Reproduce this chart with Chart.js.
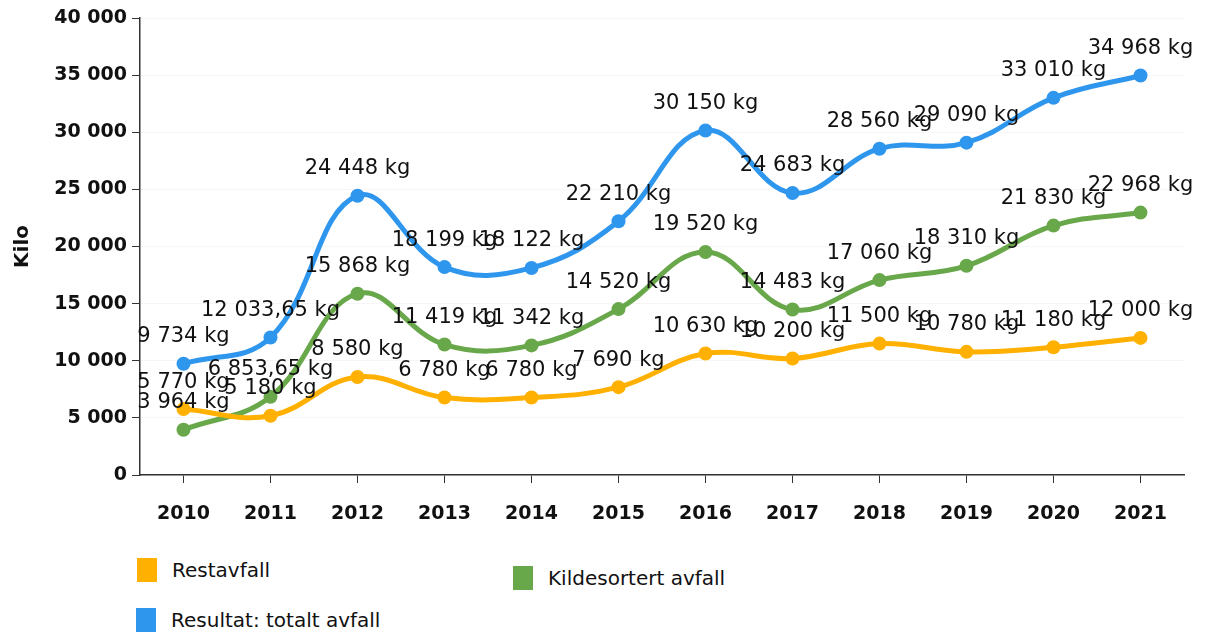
<!DOCTYPE html>
<html>
<head>
<meta charset="utf-8">
<script src="https://cdn.jsdelivr.net/npm/chart.js@4"></script>
<style>
    html, body { margin: 0; padding: 0; background: #fff; }
    body { width: 1216px; height: 638px; position: relative; overflow: hidden; font-family: 'DejaVu Sans', sans-serif; }
    #wrap { position: absolute; left: 0; top: 0; width: 1216px; height: 545px; }
    .legend-item { position: absolute; display: flex; align-items: center; font-size: 20px; color: #111; }
    .legend-item span.box { display: inline-block; width: 20px; height: 24px; margin-right: 15px; }
</style>
</head>
<body>
<div id="wrap"><canvas id="chart"></canvas></div>
<div class="legend-item" style="left:137px; top:558px;"><span class="box" style="background:#ffb000"></span>Restavfall</div>
<div class="legend-item" style="left:513px; top:566px;"><span class="box" style="background:#68a84a"></span>Kildesortert avfall</div>
<div class="legend-item" style="left:136px; top:608px;"><span class="box" style="background:#2f96ee"></span>Resultat: totalt avfall</div>
<script>
const years = ['2010', '2011', '2012', '2013', '2014', '2015', '2016', '2017', '2018', '2019', '2020', '2021'];
const restavfall = [5770, 5180, 8580, 6780, 6780, 7690, 10630, 10200, 11500, 10780, 11180, 12000];
const kildesortert = [3964, 6853.65, 15868, 11419, 11342, 14520, 19520, 14483, 17060, 18310, 21830, 22968];
const totalt = [9734, 12033.65, 24448, 18199, 18122, 22210, 30150, 24683, 28560, 29090, 33010, 34968];
const yTicks = [0, 5000, 10000, 15000, 20000, 25000, 30000, 35000, 40000];

const COLORS = {
    orange: '#ffb000',
    green: '#68a84a',
    blue: '#2f96ee',
    axis: '#333333',
    grid: 'rgba(0, 0, 0, 0.035)',
    text: '#111111',
};

// "6 853,65" style: space as thousands separator, comma for decimals
function formatNo(value) {
    const parts = Number(value).toFixed(2).split('.');
    const whole = parts[0].replace(/\B(?=(\d{3})+(?!\d))/g, ' ');
    return parts[1] === '00' ? whole : `${whole},${parts[1]}`;
}

const valueLabels = {
    id: 'valueLabels',
    afterDatasetsDraw(chart) {
        const ctx = chart.ctx;
        ctx.save();
        ctx.font = '21px "DejaVu Sans", sans-serif';
        ctx.fillStyle = COLORS.text;
        ctx.textAlign = 'center';
        ctx.textBaseline = 'middle';
        chart.data.datasets.forEach((ds, i) => {
            chart.getDatasetMeta(i).data.forEach((pt, j) => {
                ctx.fillText(`${formatNo(ds.data[j])} kg`, pt.x, pt.y - 27);
            });
        });
        ctx.restore();
    },
};

function line(label, data, color) {
    return {
        label,
        data,
        borderColor: color,
        backgroundColor: color,
        borderWidth: 5,
        pointRadius: 7,
        pointBorderWidth: 0,
        tension: 0.4,
        fill: false,
    };
}

new Chart(document.getElementById('chart'), {
    type: 'line',
    data: {
        labels: years,
        datasets: [
            line('Restavfall', restavfall, COLORS.orange),
            line('Kildesortert avfall', kildesortert, COLORS.green),
            line('Resultat: totalt avfall', totalt, COLORS.blue),
        ],
    },
    options: {
        responsive: true,
        maintainAspectRatio: false,
        animation: false,
        layout: { padding: { top: 18, right: 32, left: 0, bottom: 0 } },
        plugins: {
            legend: { display: false },
            tooltip: { enabled: false },
        },
        scales: {
            x: {
                offset: true,
                grid: { offset: false, drawOnChartArea: false, tickLength: 8, tickColor: COLORS.axis },
                border: { color: COLORS.axis, width: 1.5 },
                ticks: { color: COLORS.text, padding: 20, font: { size: 19, weight: 'bold', family: 'DejaVu Sans' } },
                afterFit(scale) { scale.height = 70; },
            },
            y: {
                min: 0,
                max: 40000,
                afterBuildTicks(scale) { scale.ticks = yTicks.map((v) => ({ value: v })); },
                grid: { color: COLORS.grid, tickLength: 8, tickColor: COLORS.axis },
                border: { color: COLORS.axis, width: 1.5 },
                ticks: {
                    color: COLORS.text,
                    padding: 5,
                    font: { size: 19, weight: 'bold', family: 'DejaVu Sans' },
                    callback: (v) => formatNo(v),
                },
                title: {
                    display: true,
                    text: 'Kilo',
                    color: COLORS.text,
                    padding: { top: 11, bottom: 0 },
                    font: { size: 20, weight: 'bold', family: 'DejaVu Sans' },
                },
                afterFit(scale) { scale.width = 140; },
            },
        },
    },
    plugins: [valueLabels],
});
</script>
</body>
</html>
